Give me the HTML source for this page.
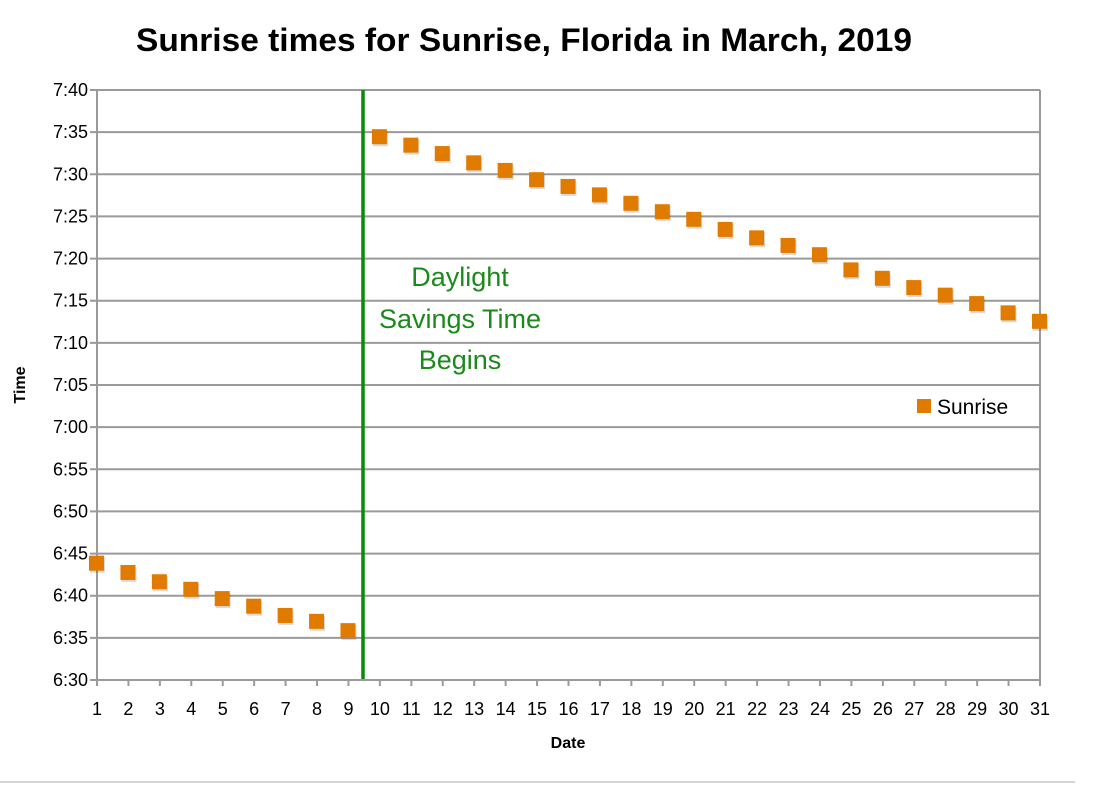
<!DOCTYPE html>
<html><head><meta charset="utf-8"><style>
html,body{margin:0;padding:0;background:#fff;}
svg{display:block;font-family:"Liberation Sans",sans-serif;}
</style></head><body>
<svg id="chart" width="1093" height="798">
<text x="524" y="51" text-anchor="middle" font-size="32" font-weight="bold" textLength="776" lengthAdjust="spacingAndGlyphs">Sunrise times for Sunrise, Florida in March, 2019</text>
<g id="grid"></g>
<g id="axes"></g>
<g id="marks"></g>
<line x1="363" y1="90" x2="363" y2="679" stroke="#0a8a0a" stroke-width="3.5"/>
<text font-size="27" fill="#1a8a1a" text-anchor="middle"><tspan x="460" y="286">Daylight</tspan><tspan x="460" y="328">Savings Time</tspan><tspan x="460" y="369">Begins</tspan></text>
<rect x="917" y="399" width="14" height="14" fill="#e07b00"/>
<text x="937" y="414" font-size="21">Sunrise</text>
<text transform="translate(25,385) rotate(-90)" text-anchor="middle" font-size="16" font-weight="bold">Time</text>
<text x="568" y="748" text-anchor="middle" font-size="16" font-weight="bold">Date</text>
<line x1="0" y1="782" x2="1075" y2="782" stroke="#aaa" stroke-width="1"/>
</svg>
<script>
const days=[1,2,3,4,5,6,7,8,9,10,11,12,13,14,15,16,17,18,19,20,21,22,23,24,25,26,27,28,29,30,31];
// minutes after 6:30
const minutes=[13.8,12.7,11.6,10.7,9.6,8.7,7.6,6.9,5.8,64.4,63.4,62.4,61.3,60.4,59.3,58.5,57.5,56.5,55.5,54.6,53.4,52.4,51.5,50.4,48.6,47.6,46.5,45.6,44.6,43.5,42.5];
const yTicks=["6:30","6:35","6:40","6:45","6:50","6:55","7:00","7:05","7:10","7:15","7:20","7:25","7:30","7:35","7:40"];
const NS="http://www.w3.org/2000/svg";
const X0=97,X1=1040,Y0=680,Y1=90;
const xs=d=>X0+(d-1)*(X1-X0)/30;
const ys=m=>Y0-m*(Y0-Y1)/70;
function mk(tag,attrs,parent){const e=document.createElementNS(NS,tag);for(const k in attrs)e.setAttribute(k,attrs[k]);parent.appendChild(e);return e;}
const grid=document.getElementById('grid'),axes=document.getElementById('axes'),marks=document.getElementById('marks');
yTicks.forEach((t,i)=>{const y=ys(i*5);
 const l=mk('line',{x1:X0-7,x2:X1,y1:y,y2:y,stroke:'#9a9a9a','stroke-width':2},grid);
 
 
 const tx=mk('text',{x:X0-9,y:y+6,'text-anchor':'end','font-size':18},axes);tx.textContent=t;
 
 
});
[X0,X1].forEach(x=>{const l=mk('line',{x1:x,x2:x,y1:Y1,y2:Y0,stroke:'#9a9a9a','stroke-width':2},grid);
 
 });
days.forEach(d=>{const x=xs(d);
 const tk=mk('line',{x1:x,x2:x,y1:Y0,y2:Y0+6,stroke:'#9a9a9a','stroke-width':2},axes);
 
 
 const tx=mk('text',{x:x,y:Y0+35,'text-anchor':'middle','font-size':18},axes);tx.textContent=d;
 
 
});
days.forEach((d,i)=>{const x=xs(d),y=ys(minutes[i]);
 mk('rect',{x:x-7,y:y-6,width:15,height:15,fill:'#000',opacity:0.15},marks);
 const r=mk('rect',{x:x-8,y:y-8,width:15,height:15,fill:'#e07b00'},marks);
 
 
});
</script>
</body></html>
